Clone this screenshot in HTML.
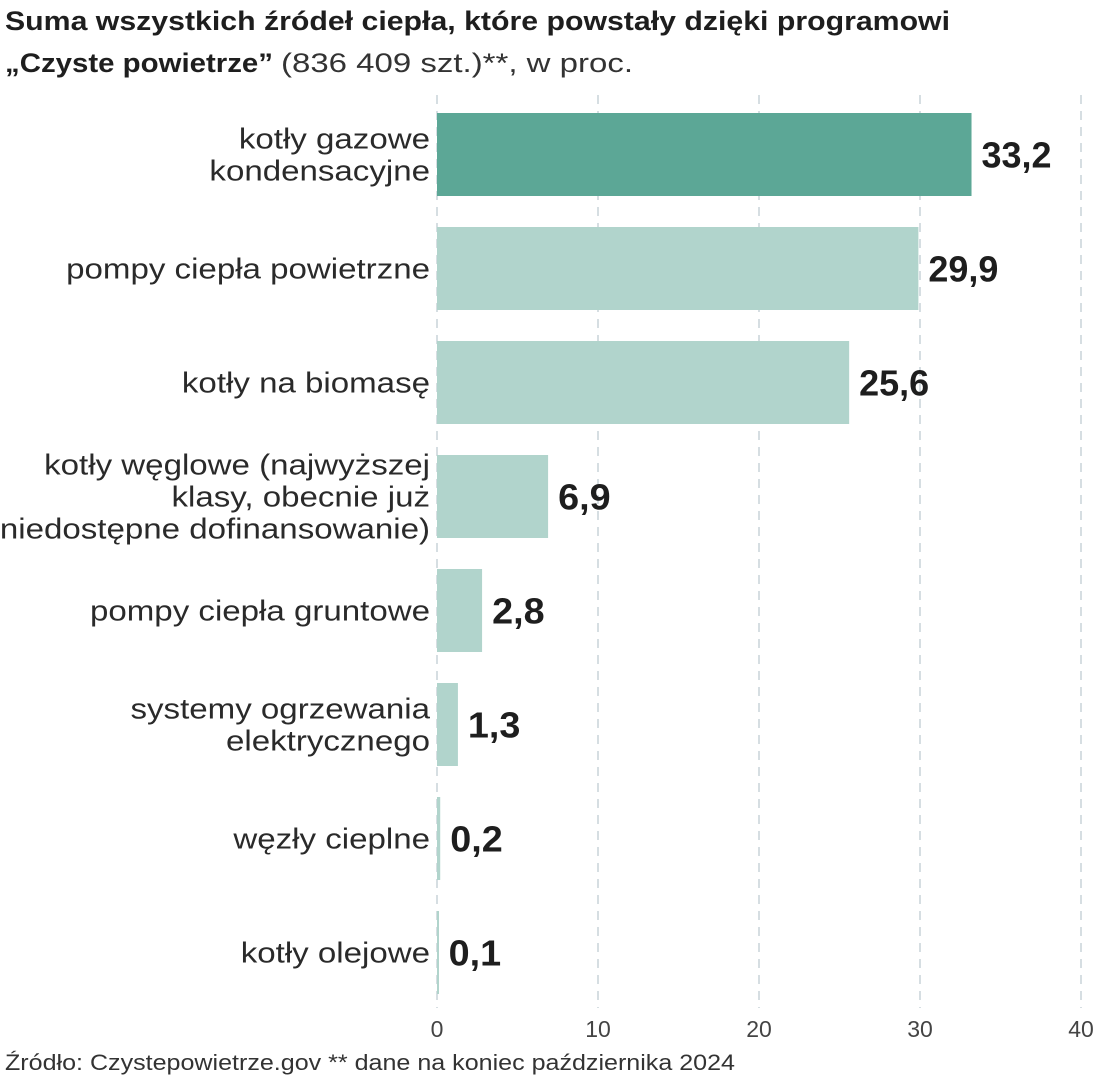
<!DOCTYPE html>
<html><head><meta charset="utf-8"><style>
html,body{margin:0;padding:0;background:#fff;width:1096px;height:1080px;overflow:hidden}
svg{display:block;font-family:"Liberation Sans",sans-serif}
</style></head><body>
<svg id="chart" width="1096" height="1080">
<text x="5" y="30" font-size="27" font-weight="bold" fill="#1e1e1e" textLength="945" lengthAdjust="spacingAndGlyphs">Suma wszystkich źródeł ciepła, które powstały dzięki programowi</text>
<text x="5" y="72" font-size="27" fill="#1e1e1e"><tspan font-weight="bold" textLength="268" lengthAdjust="spacingAndGlyphs">„Czyste powietrze”</tspan><tspan dx="8" fill="#333" textLength="352" lengthAdjust="spacingAndGlyphs">(836 409 szt.)**, w proc.</tspan></text>
<g id="grid"></g><g id="bars"></g>
<text x="5" y="1070" font-size="22" fill="#333" textLength="730" lengthAdjust="spacingAndGlyphs">Źródło: Czystepowietrze.gov ** dane na koniec października 2024</text>
</svg>
<script>
const categories=[["kotły gazowe","kondensacyjne"],["pompy ciepła powietrzne"],["kotły na biomasę"],["kotły węglowe (najwyższej","klasy, obecnie już","niedostępne dofinansowanie)"],["pompy ciepła gruntowe"],["systemy ogrzewania","elektrycznego"],["węzły cieplne"],["kotły olejowe"]];
const values=[33.2,29.9,25.6,6.9,2.8,1.3,0.2,0.1];
const valueLabels=["33,2","29,9","25,6","6,9","2,8","1,3","0,2","0,1"];
const ticks=[0,10,20,30,40];
const NS="http://www.w3.org/2000/svg";
const x=v=>437+v*16.1;
const y=i=>113+i*114;
const bh=83;
function mk(t,a,p){const e=document.createElementNS(NS,t);for(const k in a)e.setAttribute(k,a[k]);p.appendChild(e);return e;}
const grid=document.getElementById('grid'),bars=document.getElementById('bars');
ticks.forEach(t=>{
 const l=mk('line',{x1:x(t),x2:x(t),y1:95,y2:1008,stroke:'#c9d3d8','stroke-width':1.5,'stroke-dasharray':'9,7'},grid);
 
 
 const tx=mk('text',{x:x(t),y:1037,'font-size':23,fill:'#444','text-anchor':'middle'},grid);
 tx.textContent=t;
 
 
});
values.forEach((v,i)=>{
 const r=mk('rect',{x:x(0),y:y(i),width:Math.max(x(v)-x(0),2),height:bh,fill:i==0?'#5ca796':'#b1d4cc'},bars);
 
 
 const vl=mk('text',{x:x(v)+10,y:y(i)+bh/2+13,'font-size':36,'font-weight':'bold',fill:'#1e1e1e',textLength:valueLabels[i].length*17.5,lengthAdjust:'spacingAndGlyphs'},bars);
 vl.textContent=valueLabels[i];
 
 
 const lines=categories[i],lh=32,start=y(i)+bh/2-(lines.length-1)*lh/2+10;
 lines.forEach((s,j)=>{
  const c=mk('text',{x:430,y:start+j*lh,'font-size':29,fill:'#2a2a2a','text-anchor':'end'},bars);
  c.textContent=s;
  
  
  const w=c.getComputedTextLength();
  c.setAttribute('textLength',w*1.14);
  c.setAttribute('lengthAdjust','spacingAndGlyphs');
 });
});
</script>
</body></html>
